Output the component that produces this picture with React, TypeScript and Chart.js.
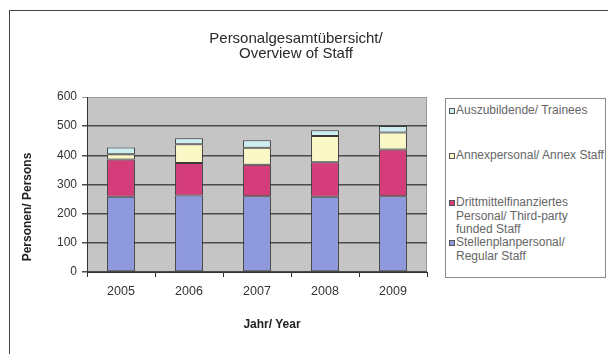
import React, { useEffect, useRef } from "react";
import { Chart, registerables } from "chart.js";

Chart.register(...registerables);

// ---- data ----
const years = ["2005", "2006", "2007", "2008", "2009"];
const regularStaff = [258, 262, 260, 258, 260];
const thirdPartyStaff = [128, 112, 108, 118, 160];
const annexStaff = [18, 64, 58, 90, 58];
const trainees = [23, 21, 26, 20, 23];
const yTickValues = [0, 100, 200, 300, 400, 500, 600];

const labelRegular = ["Stellenplanpersonal/", "Regular Staff"];
const labelThirdParty = ["Drittmittelfinanziertes", "Personal/ Third-party", "funded Staff"];
const labelAnnex = ["Annexpersonal/ Annex Staff"];
const labelTrainees = ["Auszubildende/ Trainees"];

const chartTitle = ["Personalgesamtübersicht/", "Overview of Staff"];
const xTitle = "Jahr/ Year";
const yTitle = "Personen/ Persons";

const FONT = "'Liberation Sans', Arial, sans-serif";

const COLORS = {
  regular: "#8f9ade",
  third: "#d43c7a",
  annex: "#fbf8c8",
  trainees: "#cdeef0",
};

const plotBg = {
  id: "plotBg",
  beforeDraw(chart: any) {
    const { ctx, chartArea } = chart;
    if (!chartArea) return;
    ctx.save();
    ctx.fillStyle = "#c5c5c5";
    ctx.fillRect(chartArea.left, chartArea.top, chartArea.right - chartArea.left, chartArea.bottom - chartArea.top);
    ctx.strokeStyle = "#9a9a9a";
    ctx.lineWidth = 1;
    ctx.strokeRect(chartArea.left + 0.5, chartArea.top + 0.5, chartArea.right - chartArea.left - 1, chartArea.bottom - chartArea.top - 1);
    ctx.restore();
  },
};

export default function App() {
  const canvasRef = useRef<HTMLCanvasElement | null>(null);

  useEffect(() => {
    const canvas = canvasRef.current;
    if (!canvas) return;
    const chart = new Chart(canvas, {
      type: "bar",
      data: {
        labels: years,
        datasets: [
          { label: labelRegular.join(" "), data: regularStaff, backgroundColor: COLORS.regular },
          { label: labelThirdParty.join(" "), data: thirdPartyStaff, backgroundColor: COLORS.third },
          { label: labelAnnex.join(" "), data: annexStaff, backgroundColor: COLORS.annex },
          { label: labelTrainees.join(" "), data: trainees, backgroundColor: COLORS.trainees },
        ].map((d) => ({
          ...d,
          borderColor: "#3a3a3a",
          borderWidth: 1,
          borderSkipped: false,
          barPercentage: 0.41,
          categoryPercentage: 1,
        })),
      },
      options: {
        responsive: false,
        animation: false,
        layout: { padding: { left: 10, top: 97, right: 181, bottom: 0 } },
        plugins: {
          legend: { display: false },
          title: { display: false },
          tooltip: { enabled: false },
        },
        scales: {
          x: {
            stacked: true,
            afterFit: (s: any) => {
              s.height = 82;
            },
            grid: {
              display: true,
              offset: true,
              drawOnChartArea: false,
              drawTicks: true,
              tickLength: 5,
              color: "#333",
            },
            border: { display: true, color: "#333", width: 1 },
            ticks: {
              color: "#333",
              font: { family: FONT, size: 12.5 },
              padding: 7,
              maxRotation: 0,
            },
          },
          y: {
            stacked: true,
            min: 0,
            max: 600,
            afterFit: (s: any) => {
              s.width = 77;
            },
            afterBuildTicks: (s: any) => {
              s.ticks = yTickValues.map((v) => ({ value: v }));
            },
            grid: {
              color: (c: any) => (c.tick && c.tick.value === 600 ? "#9a9a9a" : "#4a4a4a"),
              lineWidth: (c: any) => (c.tick && c.tick.value === 600 ? 1 : 1.5),
              tickLength: 5,
              drawTicks: true,
            },
            border: { display: true, color: "#333", width: 1 },
            ticks: {
              color: "#333",
              font: { family: FONT, size: 12 },
              padding: 5,
            },
          },
        },
      },
      plugins: [plotBg],
    });
    return () => chart.destroy();
  }, []);

  const legendItems = [
    { lines: labelTrainees, color: COLORS.trainees, top: 5 },
    { lines: labelAnnex, color: COLORS.annex, top: 50 },
    { lines: labelThirdParty, color: COLORS.third, top: 97 },
    { lines: labelRegular, color: COLORS.regular, top: 137 },
  ];

  return (
    <div
      style={{
        position: "fixed",
        left: 0,
        top: 0,
        width: 608,
        height: 354,
        background: "#fff",
        overflow: "hidden",
        fontFamily: FONT,
      }}
    >
      <canvas ref={canvasRef} width={608} height={354} style={{ position: "absolute", left: 0, top: 0, width: 608, height: 354 }} />
      {/* outer frame (left & top) */}
      <div style={{ position: "absolute", left: 9, top: 10, width: 1, height: 344, background: "#444" }} />
      <div style={{ position: "absolute", left: 9, top: 10, width: 599, height: 1, background: "#444" }} />
      {/* chart title */}
      <div
        style={{
          position: "absolute",
          left: 0,
          top: 30,
          width: 592,
          textAlign: "center",
          fontSize: 15,
          lineHeight: "15px",
          color: "#2a2a2a",
        }}
      >
        {chartTitle.map((t, i) => (
          <div key={i}>{t}</div>
        ))}
      </div>
      {/* y axis title */}
      <div
        style={{
          position: "absolute",
          left: 27,
          top: 207,
          transform: "translate(-50%, -50%) rotate(-90deg)",
          whiteSpace: "nowrap",
          fontWeight: "bold",
          fontSize: 12,
          color: "#222",
        }}
      >
        {yTitle}
      </div>
      {/* x axis title */}
      <div
        style={{
          position: "absolute",
          left: 272,
          top: 324,
          transform: "translate(-50%, -50%)",
          whiteSpace: "nowrap",
          fontWeight: "bold",
          fontSize: 12,
          color: "#222",
        }}
      >
        {xTitle}
      </div>
      {/* legend */}
      <div
        style={{
          position: "absolute",
          left: 445,
          top: 98,
          width: 161,
          height: 180,
          border: "1px solid #8a8a8a",
          boxSizing: "border-box",
          overflow: "hidden",
          background: "#fff",
        }}
      >
        {legendItems.map((it, i) => (
          <div key={i} style={{ position: "absolute", left: 0, top: it.top, width: 200 }}>
            <div
              style={{
                position: "absolute",
                left: 3,
                top: 4,
                width: 6,
                height: 6,
                background: it.color,
                border: "1px solid #555",
                boxSizing: "border-box",
              }}
            />
            <div
              style={{
                position: "absolute",
                left: 10,
                top: 0,
                whiteSpace: "nowrap",
                fontSize: 12,
                lineHeight: "13.5px",
                color: "#666",
              }}
            >
              {it.lines.map((l, j) => (
                <div key={j}>{l}</div>
              ))}
            </div>
          </div>
        ))}
      </div>
    </div>
  );
}
